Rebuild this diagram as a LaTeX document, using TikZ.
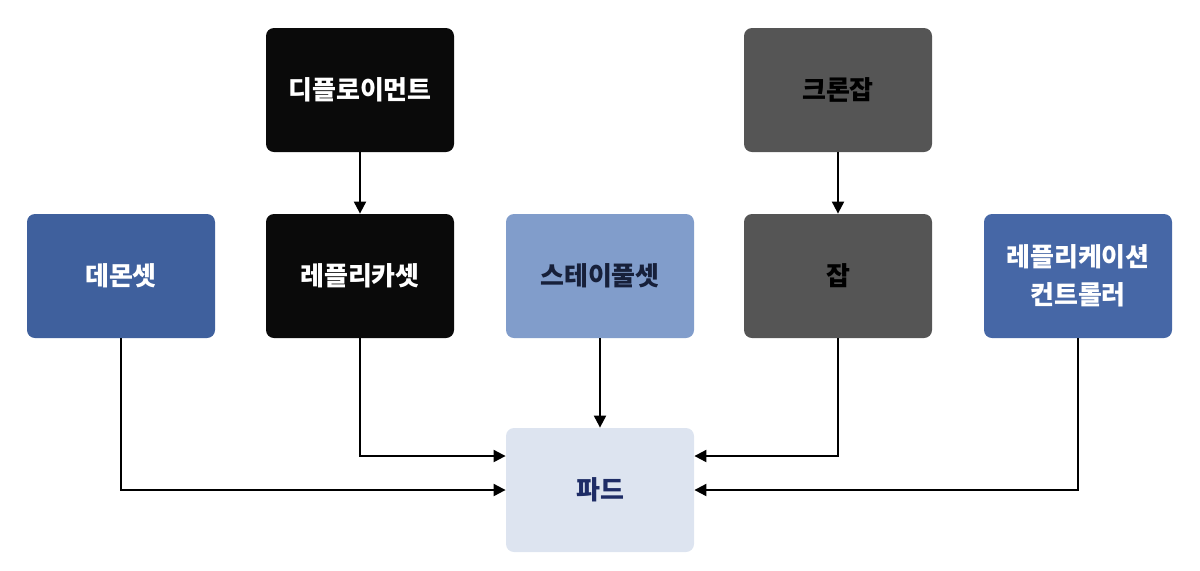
\documentclass[tikz,border=0pt]{standalone}
\usepackage{fontspec}
\newfontfamily\kr{Noto Sans CJK KR}
\usetikzlibrary{arrows.meta}
\definecolor{cblack}{HTML}{0A0A0A}
\definecolor{cgray}{HTML}{555555}
\definecolor{cblue}{HTML}{3F609D}
\definecolor{cblueb}{HTML}{4667A6}
\definecolor{clight}{HTML}{819DCB}
\definecolor{cpod}{HTML}{DDE4F0}
\definecolor{cpodtxt}{HTML}{1E2C66}
\definecolor{cdark}{HTML}{17203A}
\begin{document}
\begin{tikzpicture}[x=0.5pt,y=-0.5pt,
  box/.style={rounded corners=4pt, minimum width=94pt, minimum height=62pt, inner sep=0pt, align=center,
    font=\kr\bfseries\fontsize{13}{18}\selectfont},
  blackbox/.style={box, fill=cblack, text=white},
  graybox/.style={box, fill=cgray, text=black},
  bluebox/.style={box, fill=cblue, text=white},
  blueboxb/.style={box, fill=cblueb, text=white},
  lightbox/.style={box, fill=clight, text=cdark},
  podbox/.style={box, fill=cpod, text=cpodtxt},
  conn/.style={draw=black, line width=1pt, -{Triangle[length=6pt,width=6pt]}}]
\useasboundingbox (0,0) rectangle (1200,570);
\node[blackbox] (deploy) at (360,90) {디플로이먼트};
\node[graybox] (cron) at (838,90) {크론잡};
\node[bluebox] (daemon) at (121,276) {데몬셋};
\node[blackbox] (rs) at (360,276) {레플리카셋};
\node[lightbox] (sts) at (600,276) {스테이풀셋};
\node[graybox] (job) at (838,276) {잡};
\node[blueboxb] (rc) at (1078,276) {레플리케이션\\[1pt]컨트롤러};
\node[podbox] (pod) at (600,490) {파드};
\draw[conn] (deploy) -- (rs);
\draw[conn] (cron) -- (job);
\draw[conn] (sts) -- (pod);
\draw[conn] (rs.south) |- ([yshift=17pt]pod.west);
\draw[conn] (daemon.south) |- ([yshift=0pt]pod.west);
\draw[conn] (job.south) |- ([yshift=17pt]pod.east);
\draw[conn] (rc.south) |- ([yshift=0pt]pod.east);
\end{tikzpicture}
\end{document}
